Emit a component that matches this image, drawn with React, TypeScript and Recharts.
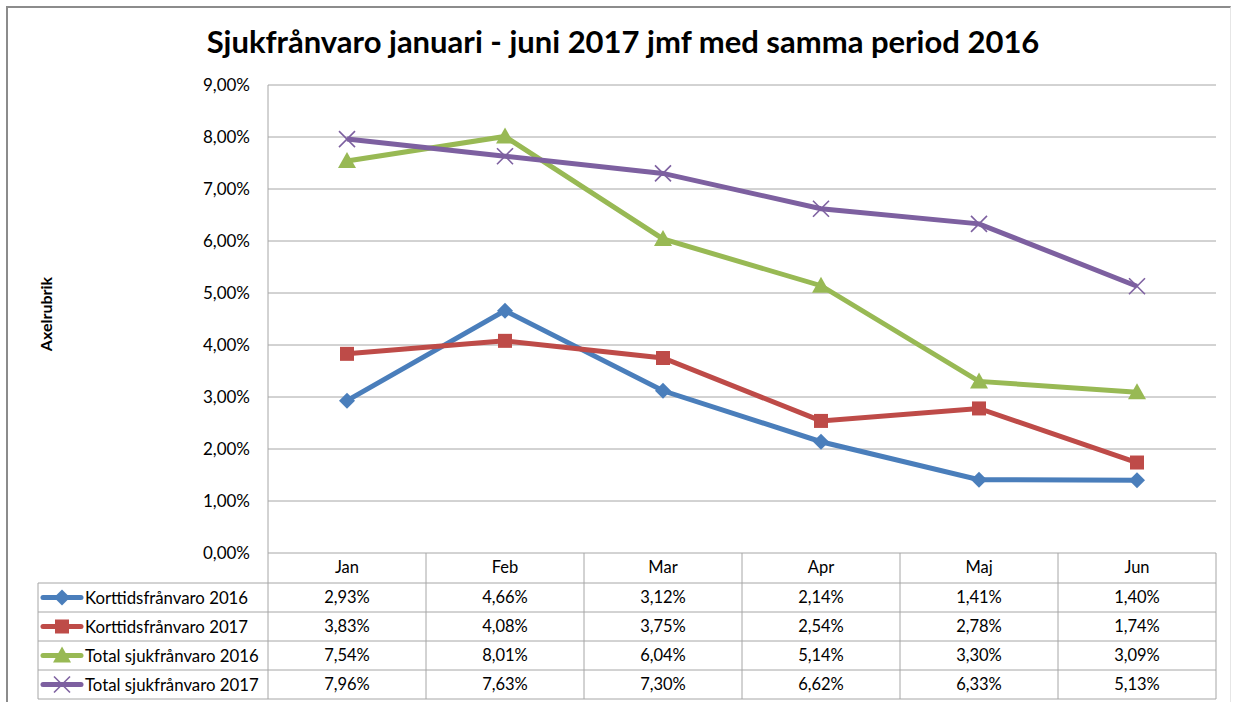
import React from "react";
import { LineChart, Line, XAxis, YAxis, CartesianGrid } from "recharts";

const months = ["Jan", "Feb", "Mar", "Apr", "Maj", "Jun"];
const kort2016 = [2.93, 4.66, 3.12, 2.14, 1.41, 1.4];
const kort2017 = [3.83, 4.08, 3.75, 2.54, 2.78, 1.74];
const total2016 = [7.54, 8.01, 6.04, 5.14, 3.3, 3.09];
const total2017 = [7.96, 7.63, 7.3, 6.62, 6.33, 5.13];
const yTicks = [0, 1, 2, 3, 4, 5, 6, 7, 8, 9];

const FONT = "Lato, 'Open Sans', sans-serif";
const W = 1233;
const H = 702;
const PLOT_LEFT = 268;
const PLOT_RIGHT = 1216;
const PLOT_TOP = 85;
const PLOT_BOTTOM = 553;
const Y_AXIS_W = 60;
const GRID = "#a6a6a6";

type Shape = "diamond" | "square" | "triangle" | "cross";

const series: { key: string; name: string; color: string; shape: Shape; values: number[] }[] = [
  { key: "k16", name: "Korttidsfrånvaro 2016", color: "#4a7ebb", shape: "diamond", values: kort2016 },
  { key: "k17", name: "Korttidsfrånvaro 2017", color: "#be4b48", shape: "square", values: kort2017 },
  { key: "t16", name: "Total sjukfrånvaro 2016", color: "#98b954", shape: "triangle", values: total2016 },
  { key: "t17", name: "Total sjukfrånvaro 2017", color: "#7d60a0", shape: "cross", values: total2017 },
];

const data = months.map((m, i) => {
  const row: Record<string, number | string> = { month: m };
  series.forEach((s) => (row[s.key] = s.values[i]));
  return row;
});

const pct = (v: number) => v.toFixed(2).replace(".", ",") + "%";

function Marker({ shape, cx, cy, color }: { shape: Shape; cx: number; cy: number; color: string }) {
  if (shape === "diamond") {
    const r = 8;
    return <polygon points={`${cx},${cy - r} ${cx + r},${cy} ${cx},${cy + r} ${cx - r},${cy}`} fill={color} />;
  }
  if (shape === "square") {
    const r = 7;
    return <rect x={cx - r} y={cy - r} width={2 * r} height={2 * r} fill={color} />;
  }
  if (shape === "triangle") {
    const r = 8;
    return <polygon points={`${cx},${cy - r - 1} ${cx + r + 1},${cy + r - 1} ${cx - r - 1},${cy + r - 1}`} fill={color} />;
  }
  const r = 8;
  return (
    <g stroke={color} strokeWidth={1.6}>
      <line x1={cx - r} y1={cy - r} x2={cx + r} y2={cy + r} />
      <line x1={cx - r} y1={cy + r} x2={cx + r} y2={cy - r} />
    </g>
  );
}

const makeDot = (shape: Shape, color: string) => (props: any) => {
  const { cx, cy, index } = props;
  if (cx == null || cy == null) return <g key={index} />;
  return (
    <g key={`${shape}-${index}`}>
      <Marker shape={shape} cx={cx} cy={cy} color={color} />
    </g>
  );
};

function DataTable() {
  const colW = (PLOT_RIGHT - PLOT_LEFT) / months.length;
  const headTop = PLOT_BOTTOM;
  const rowsTop = 583;
  const rowH = 29;
  const tableBottom = rowsTop + rowH * series.length;
  const legendLeft = 38;
  return (
    <svg width={W} height={H} style={{ position: "absolute", left: 0, top: 0, pointerEvents: "none" }}>
      <g stroke={GRID} strokeWidth={1}>
        <line x1={PLOT_LEFT} y1={PLOT_TOP} x2={PLOT_LEFT} y2={tableBottom} />
        <line x1={PLOT_RIGHT} y1={headTop} x2={PLOT_RIGHT} y2={tableBottom} />
        <line x1={legendLeft} y1={rowsTop} x2={legendLeft} y2={tableBottom} />
        {months.map((m, i) =>
          i > 0 ? (
            <line key={m} x1={PLOT_LEFT + i * colW} y1={headTop} x2={PLOT_LEFT + i * colW} y2={tableBottom} />
          ) : null
        )}
        {series.map((s, i) => (
          <line key={s.key} x1={legendLeft} y1={rowsTop + i * rowH} x2={PLOT_RIGHT} y2={rowsTop + i * rowH} />
        ))}
        <line x1={legendLeft} y1={tableBottom} x2={PLOT_RIGHT} y2={tableBottom} />
      </g>
      <g fontFamily={FONT} fontSize={16.5} fill="#000" textAnchor="middle">
        {months.map((m, i) => (
          <text key={m} x={PLOT_LEFT + (i + 0.5) * colW} y={headTop + 20}>
            {m}
          </text>
        ))}
        {series.map((s, r) =>
          s.values.map((v, i) => (
            <text key={`${s.key}-${i}`} x={PLOT_LEFT + (i + 0.5) * colW} y={rowsTop + r * rowH + 20}>
              {pct(v)}
            </text>
          ))
        )}
      </g>
      {series.map((s, r) => {
        const cy = rowsTop + r * rowH + rowH / 2;
        return (
          <g key={s.key}>
            <line x1={43} y1={cy} x2={81} y2={cy} stroke={s.color} strokeWidth={5} strokeLinecap="round" />
            <Marker shape={s.shape} cx={62} cy={cy} color={s.color} />
            <text x={85} y={cy + 6} fontFamily={FONT} fontSize={16.8} fill="#000">
              {s.name}
            </text>
          </g>
        );
      })}
    </svg>
  );
}

export default function App() {
  return (
    <div style={{ position: "absolute", left: 0, top: 0, width: W, height: H, background: "#fff", overflow: "hidden" }}>
      <div
        style={{
          position: "absolute",
          left: 6,
          top: 6,
          width: 1225,
          height: 710,
          borderTop: "2px solid #8c8c8c",
          borderLeft: "2px solid #8c8c8c",
          borderRight: "1px solid #e6e6e6",
          boxSizing: "border-box",
        }}
      />
      <div
        style={{
          position: "absolute",
          left: 0,
          top: 22,
          width: 1246,
          textAlign: "center",
          fontFamily: FONT,
          fontWeight: 700,
          fontSize: 31,
          color: "#000",
        }}
      >
        Sjukfrånvaro januari - juni 2017 jmf med samma period 2016
      </div>
      <div
        style={{
          position: "absolute",
          left: 45,
          top: 314,
          transform: "translate(-50%, -50%) rotate(-90deg)",
          fontFamily: FONT,
          fontWeight: 700,
          fontSize: 16,
          whiteSpace: "nowrap",
        }}
      >
        Axelrubrik
      </div>
      <div style={{ position: "absolute", left: 0, top: 0 }}>
        <LineChart
          width={W}
          height={H}
          data={data}
          margin={{ top: PLOT_TOP, right: W - PLOT_RIGHT, bottom: H - PLOT_BOTTOM, left: PLOT_LEFT - Y_AXIS_W }}
        >
          <CartesianGrid vertical={false} stroke={GRID} strokeDasharray="" />
          <XAxis dataKey="month" hide padding={{ left: 79, right: 79 }} />
          <YAxis
            width={Y_AXIS_W}
            domain={[0, 9]}
            ticks={yTicks}
            tickFormatter={pct}
            axisLine={false}
            tickLine={false}
            tickMargin={12}
            tick={{ fontFamily: FONT, fontSize: 17, fill: "#000" }}
            interval={0}
          />
          {series.map((s) => (
            <Line
              key={s.key}
              dataKey={s.key}
              name={s.name}
              stroke={s.color}
              strokeWidth={5}
              dot={makeDot(s.shape, s.color)}
              activeDot={false}
              isAnimationActive={false}
            />
          ))}
        </LineChart>
      </div>
      <DataTable />
    </div>
  );
}
